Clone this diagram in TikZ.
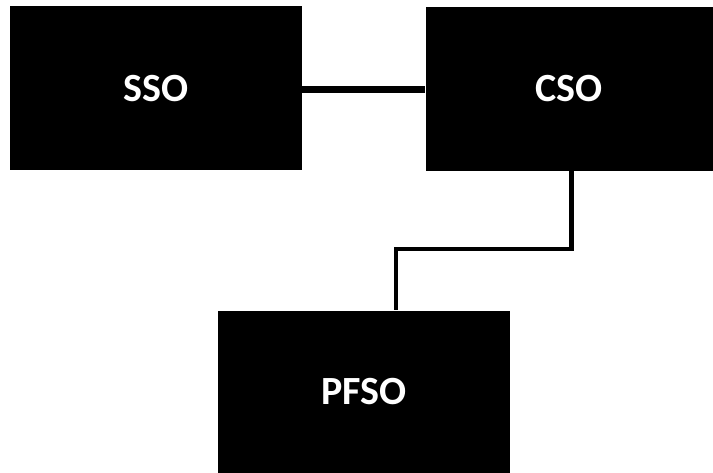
\documentclass[tikz,border=0pt]{standalone}
\usepackage{fontspec}
\setmainfont{Carlito}
\begin{document}
\begin{tikzpicture}[x=1pt,y=1pt,
  blk/.style={fill=black, draw=none, inner sep=0pt, text=white,
    font=\fontsize{40}{48}\selectfont\bfseries},
  link/.style={draw=black, line width=7pt},
  elbow/.style={draw=black, line width=4.5pt, line join=miter}]
\useasboundingbox (0,0) rectangle (713,473);
\node[blk, minimum width=292.5pt, minimum height=164pt] (sso) at (155.75,384.5) {SSO};
\node[blk, minimum width=287pt, minimum height=164pt] (cso) at (569.1,384.4) {CSO};
\node[blk, minimum width=292.6pt, minimum height=162.3pt] (pfso) at (364,81.15) {PFSO};
\draw[link] (sso.east |- 0,383.7) -- (cso.west |- 0,383.7);
\coordinate (b1) at (571.5,224);
\coordinate (b2) at (396,224);
\draw[elbow] (cso.south -| b1) -- (b1) -- (b2) -- (b2 |- pfso.north);
\end{tikzpicture}
\end{document}
